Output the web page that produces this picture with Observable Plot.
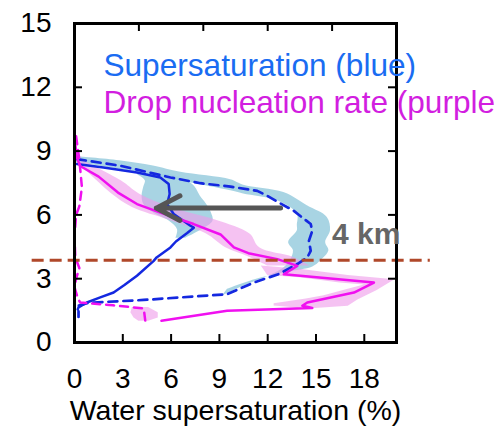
<!DOCTYPE html>
<html><head><meta charset="utf-8">
<script src="https://cdn.jsdelivr.net/npm/d3@7"></script>
<script src="https://cdn.jsdelivr.net/npm/@observablehq/plot@0.6"></script>
<style>
html,body{margin:0;padding:0;background:#fff;}
#chart{width:497px;height:437px;overflow:hidden;}
</style></head><body><div id="chart"></div>
<script>
// ---- tick labels / text ----
const xTicks = [0, 3, 6, 9, 12, 15, 18];
const yTicks = [0, 3, 6, 9, 12, 15];
const topTicks = [4, 8, 12, 16];
const xLabel = "Water supersaturation (%)";
const legendLabels = ["Supersaturation (blue)", "Drop nucleation rate (purple"];
const altitudeLabel = "4 km";

// ---- blue solid profile (supersaturation) ----
const blueSolidX = [0.15, 1.8, 3.88, 5.33, 5.85, 5.91, 5.75, 6.16, 7.2, 7.41, 7.0, 6.3, 5.96, 5.1, 4.92, 3.88, 3.1, 2.43, 1.6, 0.77, 0.25, 0.2];
const blueSolidY = [8.39, 8.23, 7.99, 7.76, 7.45, 6.98, 6.51, 6.04, 5.49, 5.4, 5.15, 4.75, 4.47, 4.0, 3.84, 3.14, 2.7, 2.35, 2.12, 1.88, 1.65, 1.55];

// ---- blue dashed profile ----
const blueDashX = [0.15, 2.85, 5.96, 7.82, 9.69, 11.35, 11.97, 12.7, 13.6, 14.67, 14.77, 14.56, 14.67, 14.46, 13.84, 12.7, 11.14, 9.48, 4.3, 1.18, 0.77, 0.25, 0.25];
const blueDashY = [8.62, 8.31, 7.76, 7.49, 7.33, 7.13, 6.9, 6.58, 6.2, 5.57, 5.25, 4.78, 4.31, 4.0, 3.69, 3.22, 2.82, 2.27, 2.0, 1.88, 1.85, 1.73, 1.2];

// ---- magenta solid profile (drop nucleation rate) ----
const magSolidX = [0.05, 0.15, 0.35, 1.5, 2.7, 3.88, 5.33, 7.4, 9.07, 9.9, 10.8, 12.6, 13.84, 13.0, 18.6, 17.36, 14.46, 14.15, 14.77, 9.48, 5.4];
const magSolidY = [9.3, 8.7, 8.3, 7.8, 7.05, 6.51, 6.11, 5.57, 5.08, 4.47, 4.2, 3.92, 3.6, 3.21, 2.82, 2.35, 1.88, 1.73, 1.62, 1.49, 1.02];

// ---- magenta dashed profile ----
const magDashX = [0.1, 0.3, 0.46, 0.3, 0.1, 0.0, 0.05, 0.3, 0.1, 0.0, 0.2, 0.35, 2.4, 4.3, 4.4];
const magDashY = [9.7, 8.6, 7.3, 6.4, 6.0, 5.0, 4.0, 3.5, 3.0, 2.6, 2.1, 1.88, 1.75, 1.6, 1.0];

// ---- blue dashed uncertainty band (outer / inner edges) ----
const dashBandOuterX = [0.1, 2.8, 4.9, 6.6, 9.7, 10.5, 13.0, 14.46, 15.7, 15.9, 15.6, 15.8, 15.3, 14.8, 13.2, 11.2, 9.5];
const dashBandOuterY = [8.75, 8.55, 8.3, 8.0, 7.65, 7.4, 7.05, 6.43, 5.88, 5.25, 4.7, 4.31, 3.84, 3.55, 3.3, 2.95, 2.5];
const dashBandInnerX = [0.1, 2.8, 4.9, 7.6, 9.7, 10.5, 12.6, 13.84, 13.84, 13.84, 13.3, 13.6, 13.4, 13.0, 12.0, 10.5, 9.2];
const dashBandInnerY = [8.45, 8.15, 7.85, 7.45, 7.13, 6.98, 6.66, 6.04, 5.5, 5.25, 4.7, 4.31, 3.84, 3.5, 3.1, 2.65, 2.2];

// ---- blue solid uncertainty band ----
const solidBandY = [7.9, 7.6, 7.3, 6.9, 6.5, 6.1, 5.7, 5.3, 4.9];
const solidBandLo = [3.9, 4.4, 4.3, 4.2, 4.3, 4.9, 5.9, 6.4, 6.3];
const solidBandHi = [6.0, 7.0, 7.5, 7.8, 8.2, 8.5, 8.6, 7.9, 6.9];

// ---- magenta uncertainty band (upper part) ----
const pinkUpY = [8.6, 7.6, 7.0, 6.35, 5.75, 5.1, 4.45, 4.0, 3.6];
const pinkUpLo = [0.0, 1.4, 2.3, 3.6, 5.9, 8.2, 9.4, 10.9, 12.0];
const pinkUpHi = [0.4, 2.9, 4.0, 6.0, 8.8, 10.9, 11.5, 13.6, 14.6];

// ---- magenta uncertainty band (lower part, edge pairs) ----
const pinkLowAX = [11.6, 14.0, 17.0, 19.9, 18.8, 17.6, 17.0, 14.5, 12.4];
const pinkLowAY = [3.6, 3.45, 3.15, 2.95, 2.45, 2.0, 1.7, 1.58, 1.72];
const pinkLowBX = [12.0, 14.0, 16.5, 18.0, 17.0, 15.5, 14.4, 12.4, 12.4];
const pinkLowBY = [3.15, 3.05, 2.8, 2.7, 2.5, 2.2, 2.05, 1.82, 1.8];

// ---- magenta dashed band blob ----
const pinkBlobY = [1.65, 1.4, 1.15, 1.0];
const pinkBlobLo = [3.6, 3.5, 3.7, 4.0];
const pinkBlobHi = [4.6, 5.2, 5.2, 4.6];

// ---- annotations ----
const refAltitude = 3.87;
const refSpan = [-2.63, 22.1];
const arrowFrom = [12.8, 6.32];
const arrowTo = [5.08, 6.32];

// build tables
const pts = (xs, ys) => xs.map((x, i) => ({x, y: ys[i]}));
const band = (ys, lo, hi) => ys.map((y, i) => ({y, x1: lo[i], x2: hi[i]}));
const ribbon = (ax, ay, bx, by) => ax.map((x, i) => ({x1: x, y1: ay[i], x2: bx[i], y2: by[i]}));

const BLUE = "#1428e0", MAG = "#f010f0", BLUEBAND = "#9fcfe0", PINKBAND = "#ef9aea";
const FONT = "'Liberation Sans', Arial, Helvetica, sans-serif";
const W = 497, H = 437, ML = 74, MR = 101, MT = 23, MB = 95;
const innerW = W - ML - MR, innerH = H - MT - MB, TICK = 8;

const chart = Plot.plot({
  width: W, height: H,
  marginLeft: ML, marginRight: MR, marginTop: MT, marginBottom: MB,
  x: {domain: [0, 20]},
  y: {domain: [0, 15]},
  style: {fontFamily: FONT, background: "white", color: "black"},
  marks: [
    Plot.area(ribbon(dashBandOuterX, dashBandOuterY, dashBandInnerX, dashBandInnerY), {x1: "x1", y1: "y1", x2: "x2", y2: "y2", fill: BLUEBAND, fillOpacity: 0.9, curve: "catmull-rom"}),
    Plot.areaX(band(solidBandY, solidBandLo, solidBandHi), {y: "y", x1: "x1", x2: "x2", fill: BLUEBAND, fillOpacity: 0.9, curve: "catmull-rom"}),
    Plot.areaX(band(pinkUpY, pinkUpLo, pinkUpHi), {y: "y", x1: "x1", x2: "x2", fill: PINKBAND, fillOpacity: 0.6, curve: "catmull-rom"}),
    Plot.area(ribbon(pinkLowAX, pinkLowAY, pinkLowBX, pinkLowBY), {x1: "x1", y1: "y1", x2: "x2", y2: "y2", fill: PINKBAND, fillOpacity: 0.6}),
    Plot.areaX(band(pinkBlobY, pinkBlobLo, pinkBlobHi), {y: "y", x1: "x1", x2: "x2", fill: PINKBAND, fillOpacity: 0.6}),
    Plot.line(pts(blueDashX, blueDashY), {x: "x", y: "y", stroke: BLUE, strokeWidth: 2.7, strokeDasharray: "9,6"}),
    Plot.line(pts(blueSolidX, blueSolidY), {x: "x", y: "y", stroke: BLUE, strokeWidth: 2.5}),
    Plot.line(pts(magDashX, magDashY), {x: "x", y: "y", stroke: MAG, strokeWidth: 2.5, strokeDasharray: "8,6"}),
    Plot.line(pts(magSolidX, magSolidY), {x: "x", y: "y", stroke: MAG, strokeWidth: 2.5}),
    Plot.ruleY([refAltitude], {x1: refSpan[0], x2: refSpan[1], stroke: "#b0482a", strokeWidth: 3, strokeDasharray: "12,6"}),
    Plot.arrow([0], {x1: () => arrowFrom[0], y1: () => arrowFrom[1], x2: () => arrowTo[0], y2: () => arrowTo[1], stroke: "#555555", strokeWidth: 5, headLength: 8, headAngle: 55}),
    Plot.frame({stroke: "black", strokeWidth: 3}),
    // inward ticks on all four sides
    Plot.tickX(xTicks, {x: d => d, insetTop: innerH - TICK, stroke: "black", strokeWidth: 2}),
    Plot.tickX(topTicks, {x: d => d, insetBottom: innerH - TICK, stroke: "black", strokeWidth: 2}),
    Plot.tickY(yTicks, {y: d => d, insetRight: innerW - TICK, stroke: "black", strokeWidth: 2}),
    Plot.tickY(yTicks, {y: d => d, insetLeft: innerW - TICK, stroke: "black", strokeWidth: 2}),
    // tick labels
    Plot.axisX(xTicks, {anchor: "bottom", tickSize: 0, tickPadding: 26, fontSize: 28, label: null}),
    Plot.axisY(yTicks, {anchor: "left", tickSize: 0, tickPadding: 23, fontSize: 28, label: null}),
    // axis title
    Plot.text([xLabel], {frameAnchor: "bottom", dy: 77, text: d => d, fontSize: 28.5, fill: "black"}),
    // legend text
    Plot.text([legendLabels[0]], {x: 1.8, y: 13.0, text: d => d, textAnchor: "start", fontSize: 31.6, fill: "#1a6cf2"}),
    Plot.text([legendLabels[1]], {x: 1.8, y: 11.28, text: d => d, textAnchor: "start", fontSize: 31.6, fill: "#d21ee0"}),
    Plot.text([altitudeLabel], {x: 16.0, y: 5.1, text: d => d, textAnchor: "start", fontSize: 30, fontWeight: "bold", fill: "#666666"})
  ]
});
document.getElementById("chart").appendChild(chart);
</script>
</body></html>
